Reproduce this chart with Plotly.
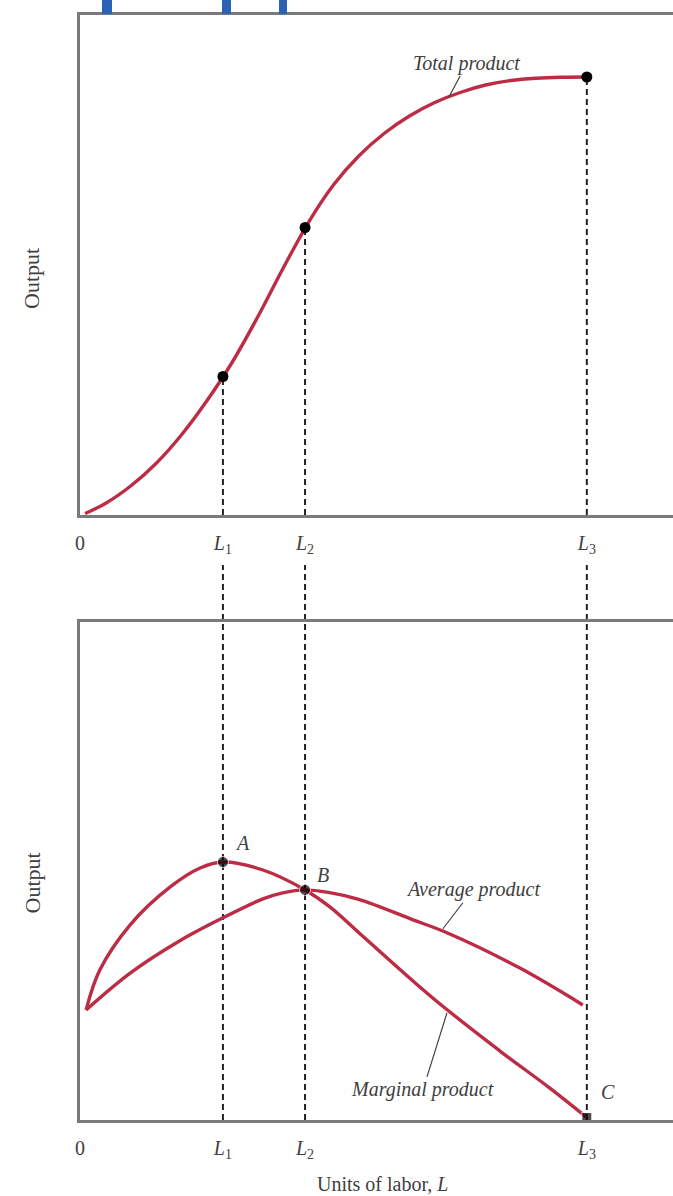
import plotly.graph_objects as go

# --- data (x in units of labour, L3 = 10) ---
L_VALS = [2.82, 4.44, 10]
TICK_VALS = [0, 2.82, 4.44, 10]
TICK_TEXT = ["0", "<i>L</i><sub>1</sub>", "<i>L</i><sub>2</sub>", "<i>L</i><sub>3</sub>"]

# total product curve
tp_x = [0.1, 0.5, 1.0, 1.5, 2.0, 2.5, 3.0, 3.5, 4.0, 4.5, 5.0, 5.5, 6.0, 6.5, 7.0, 7.5, 8.0, 8.5, 9.0, 9.5, 10.0]
tp_y = [0.3, 2.3, 5.8, 10.3, 16.0, 22.8, 30.5, 39.5, 49.2, 58.4, 66.0, 71.8, 76.3, 79.8, 82.5, 84.5, 86.0, 86.9, 87.35, 87.55, 87.6]
tp_pts = [27.7, 57.5, 87.6]

# marginal product curve
mp_x = [0.12, 0.39, 0.99, 1.78, 2.37, 2.82, 3.61, 4.44, 4.93, 5.58, 6.96, 8.28, 9.27, 10]
mp_y = [22.1, 30.1, 39.2, 46.8, 50.6, 51.8, 50.2, 46.2, 42.8, 36.9, 24.5, 13.9, 6.4, 0.5]

# average product curve
ap_x = [0.12, 0.99, 1.97, 2.82, 3.61, 4.0, 4.44, 4.9, 5.5, 6.57, 7.24, 8.68, 9.92]
ap_y = [22.1, 29.5, 36.0, 40.6, 44.4, 45.6, 46.2, 45.7, 44.3, 40.2, 37.6, 30.5, 23.1]

# points A, B, C
abc_x = [2.82, 4.44, 10]
abc_y = [51.8, 46.2, 0.5]
abc_lbl = ["A", "B", "C"]

RED = "#bd2c45"
AXIS = "#7a7a7a"
SERIF = "Liberation Serif"
INK = "#404040"

fig = go.Figure()

fig.add_trace(go.Scatter(x=tp_x, y=tp_y, mode="lines", line=dict(color=RED, width=3.4, shape="spline"),
                         xaxis="x", yaxis="y", hoverinfo="skip"))
fig.add_trace(go.Scatter(x=L_VALS, y=tp_pts, mode="markers", marker=dict(color="black", size=11),
                         xaxis="x", yaxis="y", cliponaxis=False))

fig.add_trace(go.Scatter(x=ap_x, y=ap_y, mode="lines", line=dict(color=RED, width=3.4, shape="spline"),
                         xaxis="x2", yaxis="y2", hoverinfo="skip"))
fig.add_trace(go.Scatter(x=mp_x, y=mp_y, mode="lines", line=dict(color=RED, width=3.4, shape="spline"),
                         xaxis="x2", yaxis="y2", hoverinfo="skip"))
fig.add_trace(go.Scatter(x=abc_x, y=abc_y, mode="markers",
                         marker=dict(color="black", size=[11, 11, 10], symbol=["circle", "circle", "square"]),
                         xaxis="x2", yaxis="y2", cliponaxis=False))

# dashed guides: top panel from the point down to the axis, then gap + bottom panel
for lx, ly in zip(L_VALS, tp_pts):
    fig.add_shape(type="line", xref="x", yref="y", x0=lx, x1=lx, y0=0, y1=ly,
                  line=dict(color="#222", width=2, dash="6px,4px"), layer="below")
    fig.add_shape(type="line", xref="x2", yref="paper", x0=lx, x1=lx, y0=0, y1=0.5023,
                  line=dict(color="#222", width=2, dash="6px,4px"), layer="below")

# blue marks along the top edge
for x0, x1 in [(0.0371, 0.0540), (0.2395, 0.2546), (0.3356, 0.3491)]:
    fig.add_shape(type="rect", xref="paper", yref="paper", x0=x0, x1=x1, y0=1.0009, y1=1.0136,
                  fillcolor="#2b62b3", line_width=0)

lbl_font = dict(family=SERIF, size=20, color=INK)
fig.add_annotation(x=7.28, y=83.6, xref="x", yref="y", text="<i>Total product</i>", font=lbl_font,
                   showarrow=True, arrowhead=0, arrowwidth=1.2, arrowcolor=INK, ax=18, ay=-34)
fig.add_annotation(x=7.16, y=38.4, xref="x2", yref="y2", text="<i>Average product</i>", font=lbl_font,
                   showarrow=True, arrowhead=0, arrowwidth=1.2, arrowcolor=INK, ax=30, ay=-39)
fig.add_annotation(x=7.24, y=21.5, xref="x2", yref="y2", text="<i>Marginal product</i>", font=lbl_font,
                   showarrow=True, arrowhead=0, arrowwidth=1.2, arrowcolor=INK, ax=-24, ay=77)
for px_, py_, t, dx, dy in zip(abc_x, abc_y, abc_lbl, [20, 18, 21], [19, 15, 26]):
    fig.add_annotation(x=px_, y=py_, xref="x2", yref="y2", text=f"<i>{t}</i>", font=lbl_font,
                       showarrow=False, xshift=dx, yshift=dy)

# axis titles
for ty in [0.762, 0.215]:
    fig.add_annotation(x=-0.081, y=ty, xref="paper", yref="paper", text="Output", textangle=-90,
                       xanchor="center", yanchor="middle", showarrow=False,
                       font=dict(family=SERIF, size=22, color=INK))
fig.add_annotation(x=0.51, y=-0.0575, xref="paper", yref="paper", text="Units of labor, <i>L</i>",
                   xanchor="center", yanchor="middle", showarrow=False,
                   font=dict(family=SERIF, size=20, color=INK))

xcommon = dict(range=[0, 11.7], showgrid=False, zeroline=False, showline=True, linecolor=AXIS,
               linewidth=2.5, mirror=True, tickvals=TICK_VALS, ticktext=TICK_TEXT,
               tickfont=dict(family=SERIF, size=20, color=INK), ticks="", ticklabelstandoff=8)
ycommon = dict(range=[0, 100], showgrid=False, zeroline=False, showline=True, linecolor=AXIS,
               linewidth=2.5, showticklabels=False, ticks="")

fig.update_layout(
    width=673, height=1196,
    margin=dict(l=80, r=0, t=15, b=76),
    plot_bgcolor="white", paper_bgcolor="white",
    showlegend=False,
    xaxis=dict(anchor="y", domain=[0, 1], **xcommon),
    yaxis=dict(anchor="x", domain=[0.5475, 1], **ycommon),
    xaxis2=dict(anchor="y2", domain=[0, 1], **xcommon),
    yaxis2=dict(anchor="x2", domain=[0, 0.4507], **ycommon),
)

fig.write_html("out.html", config={"displayModeBar": False},
               post_script="document.body.style.margin='0';")
